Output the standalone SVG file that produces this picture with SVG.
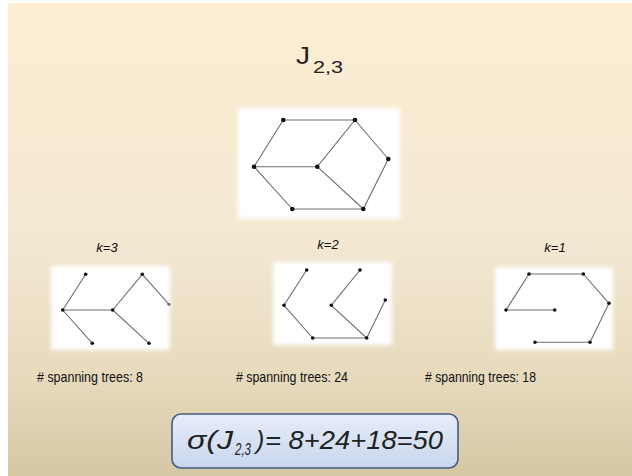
<svg xmlns="http://www.w3.org/2000/svg" width="632" height="476" viewBox="0 0 632 476">
<defs>
<linearGradient id="bg" x1="0" y1="0" x2="0" y2="1">
<stop offset="0" stop-color="#fdeed2"/>
<stop offset="0.5" stop-color="#f3e8d2"/>
<stop offset="0.8" stop-color="#e6d9bc"/>
<stop offset="1" stop-color="#d6c7a3"/>
</linearGradient>
<linearGradient id="box" x1="0" y1="0" x2="0" y2="1">
<stop offset="0" stop-color="#e6edf9"/>
<stop offset="1" stop-color="#c9d6ee"/>
</linearGradient>
<filter id="soft" x="-10%" y="-10%" width="120%" height="120%">
<feGaussianBlur stdDeviation="2"/>
</filter>
<style>
.panel{fill:#ffffff;filter:url(#soft)}
.e{stroke:#6e6e6e;stroke-width:1.1;fill:none}
.n{fill:#111}
.lab{font-family:"Liberation Sans",Arial,sans-serif;font-size:13px;font-style:italic;fill:#111;text-anchor:middle}
.cnt{font-family:"Liberation Sans",Arial,sans-serif;font-size:15px;fill:#111}
.title{font-family:"Liberation Sans",Arial,sans-serif;fill:#222}
.formula{font-family:"Liberation Sans",Arial,sans-serif;font-style:italic;fill:#222}
</style>
</defs>
<rect x="0" y="0" width="632" height="476" fill="#ffffff"/>
<rect x="8" y="3" width="624" height="473" fill="url(#bg)"/>

<g id="title">
<text class="title" x="296" y="64" font-size="23" textLength="14" lengthAdjust="spacingAndGlyphs">J</text>
<text class="title" x="313" y="72.5" font-size="17" textLength="30" lengthAdjust="spacingAndGlyphs">2,3</text>
</g>

<g id="main-graph">
<rect class="panel" x="238" y="108" width="162" height="111"/>
<g class="e">
<line x1="283.3" y1="120" x2="355" y2="120"/>
<line x1="283.3" y1="120" x2="254" y2="166.7"/>
<line x1="355" y1="120" x2="388.3" y2="159"/>
<line x1="355" y1="120" x2="317.3" y2="166.7"/>
<line x1="254" y1="166.7" x2="317.3" y2="166.7"/>
<line x1="254" y1="166.7" x2="292.3" y2="209"/>
<line x1="317.3" y1="166.7" x2="363.3" y2="209"/>
<line x1="388.3" y1="159" x2="363.3" y2="209"/>
<line x1="292.3" y1="209" x2="363.3" y2="209"/>
</g>
<g class="n">
<circle cx="283.3" cy="120" r="2.3"/>
<circle cx="355" cy="120" r="2.3"/>
<circle cx="388.3" cy="159" r="2.3"/>
<circle cx="254" cy="166.7" r="2.3"/>
<circle cx="317.3" cy="166.7" r="2.3"/>
<circle cx="292.3" cy="209" r="2.3"/>
<circle cx="363.3" cy="209" r="2.3"/>
</g>
</g>

<g id="tree-k3">
<text class="lab" x="107" y="252">k=3</text>
<rect class="panel" x="51" y="266" width="119" height="84"/>
<g class="e">
<line x1="85.7" y1="274.3" x2="62.7" y2="310"/>
<line x1="62.7" y1="310" x2="112.7" y2="310"/>
<line x1="62.7" y1="310" x2="92.3" y2="343.3"/>
<line x1="112.7" y1="310" x2="142.3" y2="274.3"/>
<line x1="142.3" y1="274.3" x2="169" y2="304.3"/>
<line x1="112.7" y1="310" x2="149" y2="343.3"/>
</g>
<g class="n">
<circle cx="85.7" cy="274.3" r="1.8"/>
<circle cx="142.3" cy="274.3" r="1.8"/>
<circle cx="169" cy="304.3" r="1.6" fill="#777"/>
<circle cx="62.7" cy="310" r="1.8"/>
<circle cx="112.7" cy="310" r="1.8"/>
<circle cx="92.3" cy="343.3" r="1.8"/>
<circle cx="149" cy="343.3" r="1.8"/>
</g>
<text class="cnt" x="37" y="382" textLength="106" lengthAdjust="spacingAndGlyphs"># spanning trees: 8</text>
</g>

<g id="tree-k2">
<text class="lab" x="328" y="249">k=2</text>
<rect class="panel" x="273" y="262" width="119" height="83"/>
<g class="e">
<line x1="306.7" y1="270" x2="284" y2="305.3"/>
<line x1="284" y1="305.3" x2="312.7" y2="338"/>
<line x1="312.7" y1="338" x2="366.7" y2="338"/>
<line x1="360" y1="270" x2="331.3" y2="305.3"/>
<line x1="331.3" y1="305.3" x2="366.7" y2="338"/>
<line x1="385.3" y1="300" x2="366.7" y2="338"/>
</g>
<g class="n">
<circle cx="306.7" cy="270" r="1.8"/>
<circle cx="360" cy="270" r="1.8"/>
<circle cx="385.3" cy="300" r="1.8"/>
<circle cx="284" cy="305.3" r="1.8"/>
<circle cx="331.3" cy="305.3" r="1.8"/>
<circle cx="312.7" cy="338" r="1.8"/>
<circle cx="366.7" cy="338" r="1.8"/>
</g>
<text class="cnt" x="236" y="382" textLength="112" lengthAdjust="spacingAndGlyphs"># spanning trees: 24</text>
</g>

<g id="tree-k1">
<text class="lab" x="555" y="252">k=1</text>
<rect class="panel" x="495" y="267" width="118" height="83"/>
<g class="e">
<line x1="529" y1="274" x2="583.3" y2="274"/>
<line x1="529" y1="274" x2="506" y2="310"/>
<line x1="506" y1="310" x2="554.7" y2="310"/>
<line x1="583.3" y1="274" x2="609" y2="303.3"/>
<line x1="609" y1="303.3" x2="590" y2="342.3"/>
<line x1="535" y1="342.3" x2="590" y2="342.3"/>
</g>
<g class="n">
<circle cx="529" cy="274" r="1.8"/>
<circle cx="583.3" cy="274" r="1.8"/>
<circle cx="609" cy="303.3" r="1.8"/>
<circle cx="506" cy="310" r="1.8"/>
<circle cx="554.7" cy="310" r="1.8"/>
<circle cx="535" cy="342.3" r="1.8"/>
<circle cx="590" cy="342.3" r="1.8"/>
</g>
<text class="cnt" x="425" y="382" textLength="111" lengthAdjust="spacingAndGlyphs"># spanning trees: 18</text>
</g>

<g id="formula">
<rect x="172" y="414" width="286" height="54" rx="9" ry="9" fill="url(#box)" stroke="#3f5d86" stroke-width="1.6"/>
<text class="formula" x="187" y="449" font-size="25" textLength="46" lengthAdjust="spacingAndGlyphs">σ(J</text>
<text class="formula" x="235" y="455" font-size="16" textLength="16" lengthAdjust="spacingAndGlyphs">2,3</text>
<text class="formula" x="256" y="449" font-size="25">)</text>
<text class="formula" x="265" y="449" font-size="25" textLength="178" lengthAdjust="spacingAndGlyphs">= 8+24+18=50</text>
</g>
</svg>
